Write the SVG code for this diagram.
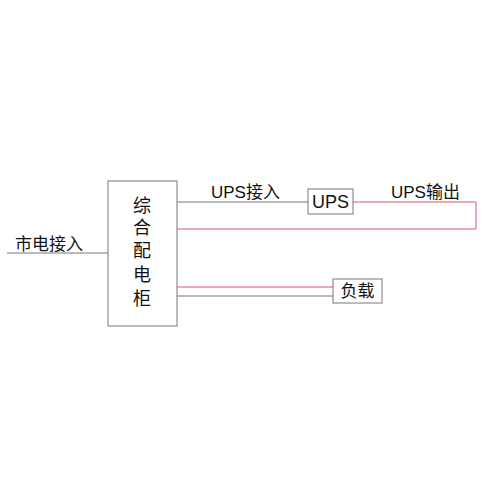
<svg xmlns="http://www.w3.org/2000/svg" width="500" height="500" viewBox="0 0 500 500">
<style>
.box{fill:#fff;stroke:#777;stroke-width:1}
.g{fill:none;stroke:#777;stroke-width:1}
.r{fill:none;stroke:#d45a6a;stroke-width:1}
.t{font-family:"Liberation Sans","Noto Sans CJK SC",sans-serif;font-size:17px;fill:#111}
.c{font-size:18px}
</style>
<rect width="500" height="500" fill="#fff"/>
<g id="connectors">
<line class="g" x1="7" y1="253" x2="108" y2="253"/>
<line class="g" x1="177" y1="202" x2="308" y2="202"/>
<polyline class="r" points="353,202 476,202 476,229 177,229"/>
<line class="r" x1="177" y1="287" x2="333" y2="287"/>
<line class="g" x1="177" y1="296" x2="333" y2="296"/>
<text class="t" x="15" y="250">市电接入</text>
<text class="t" x="211" y="198">UPS接入</text>
<text class="t" x="391" y="198">UPS输出</text>
</g>
<g id="cabinet">
<rect class="box" x="108" y="181" width="69" height="145"/>
<text class="t c" text-anchor="middle" x="142" y="212">综</text>
<text class="t c" text-anchor="middle" x="142" y="234">合</text>
<text class="t c" text-anchor="middle" x="142" y="257">配</text>
<text class="t c" text-anchor="middle" x="142" y="281">电</text>
<text class="t c" text-anchor="middle" x="142" y="305">柜</text>
</g>
<g id="ups">
<rect class="box" x="308" y="189" width="45" height="25"/>
<text class="t c" text-anchor="middle" x="330.5" y="208">UPS</text>
</g>
<g id="load">
<rect class="box" x="333" y="279" width="49" height="24"/>
<text class="t" text-anchor="middle" x="357.5" y="297">负载</text>
</g>
</svg>
